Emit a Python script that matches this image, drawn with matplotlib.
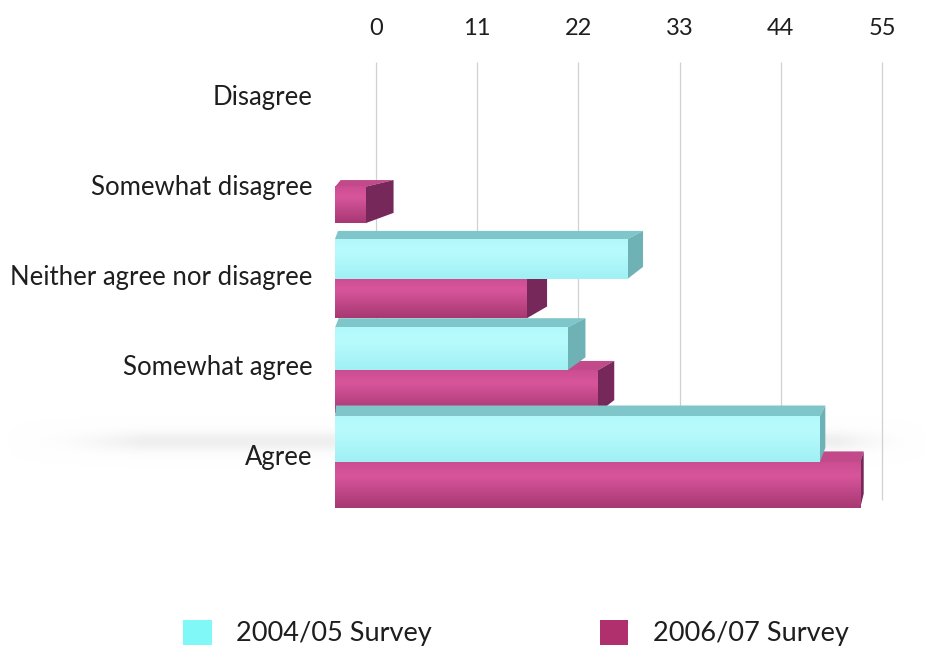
import numpy as np
import matplotlib
matplotlib.use("Agg")
import matplotlib.pyplot as plt
from matplotlib.patches import Polygon, Patch
from matplotlib.colors import LinearSegmentedColormap

plt.rcParams['font.family'] = ['Lato', 'DejaVu Sans']

categories = ["Disagree", "Somewhat disagree", "Neither agree nor disagree",
              "Somewhat agree", "Agree"]
series_names = ["2004/05 Survey", "2006/07 Survey"]
survey_2004 = [0, 0, 29, 23, 48]
survey_2006 = [0, 3, 19, 26, 52]
axis_ticks = [0, 11, 22, 33, 44, 55]

W, H = 928, 652
fig = plt.figure(figsize=(W / 100, H / 100), dpi=100)

# axes box in pixels
left_px, right_px, top_px, bot_px = 335, 900, 50, 530
ax = fig.add_axes([left_px / W, 1 - bot_px / H, (right_px - left_px) / W,
                   (bot_px - top_px) / H])

# bars (front plane) scale: ~10.1 px per unit
front_scale = 10.1
x_max = (right_px - left_px) / front_scale
row_px = 90.0
first_row_px = 95.0
y_top = (top_px - first_row_px) / row_px
y_bot = (bot_px - first_row_px) / row_px

ypos = np.arange(len(categories))

styles = [
    dict(front_top="#B8FBFD", front_bot="#A0F0F4", top="#7EC6CA", side="#6EB2B6",
         legend="#80F8F8"),
    dict(front_top="#D8559C", front_bot="#A63872", top="#C24A8A", side="#76285A",
         legend="#B0306E"),
]

vanish = (880 - left_px) / front_scale  # x (data) where depth recedes to


def draw_bar(y, v, h, depth, st, zorder):
    if v <= 0:
        return
    y0, y1 = y - h / 2, y + h / 2   # y0 is the upper edge (inverted axis)
    dx = 0.05 * (vanish - v) + 0.25
    dy = depth
    # top face
    ax.add_patch(Polygon([(0, y0), (v, y0), (v + dx, y0 - dy), (dx * 0.2, y0 - dy)],
                         closed=True, facecolor=st["top"], edgecolor="none",
                         zorder=zorder))
    # side face at the bar's end
    ax.add_patch(Polygon([(v, y0), (v + dx, y0 - dy), (v + dx, y1 - dy - 0.04),
                          (v, y1)], closed=True, facecolor=st["side"],
                         edgecolor="none", zorder=zorder))
    # front face
    ax.barh(y, v, height=h, color=st["front_bot"], zorder=zorder + 0.1)
    cmap = LinearSegmentedColormap.from_list("g", [st["front_bot"], st["front_top"]])
    t = np.linspace(0, 1, 64).reshape(-1, 1)          # 0 = upper edge
    shade = np.interp(t, [0, 0.3, 1.0], [0.75, 1.0, 0.0])
    ax.imshow(shade, extent=[0, v, y1, y0], origin="upper", aspect="auto",
              cmap=cmap, vmin=0, vmax=1, zorder=zorder + 0.2,
              interpolation="bilinear")


# soft floor shadow beneath the lowest group
sy = np.exp(-np.linspace(-2.2, 2.2, 80) ** 2).reshape(-1, 1)
sx = np.clip(np.interp(np.linspace(0, 1, 300), [0, 0.15, 0.9, 1], [0, 1, 1, 0]), 0, 1)
sh = sy * sx.reshape(1, -1)
sh_cmap = LinearSegmentedColormap.from_list("sh", [(1, 1, 1, 0), (0.55, 0.55, 0.55, 0.14)])
ax.imshow(sh, extent=[-33, x_max + 3, 4.2, 3.5], aspect="auto", cmap=sh_cmap,
          zorder=0.5, interpolation="bilinear", clip_on=False)

for i in range(len(categories)):
    h = 0.37 + 0.035 * i          # rows nearer the viewer look deeper
    shift = 0.02 * i
    depth = 0.06 + 0.015 * i
    draw_bar(ypos[i] + shift + h / 2, survey_2006[i], h, depth, styles[1], zorder=2 + i * 2)
    draw_bar(ypos[i] + shift - h / 2, survey_2004[i], h, depth, styles[0], zorder=3 + i * 2)

ax.set_xlim(0, x_max)
ax.set_ylim(y_bot, y_top)
ax.set_yticks(ypos)
ax.set_yticklabels(categories, fontsize=18.5, color="#1E1E1E")
ax.tick_params(axis="y", length=0, pad=16)
ax.set_xticks([])
for s in ax.spines.values():
    s.set_visible(False)

# value axis on the back wall
ax2 = ax.twiny()
back_scale = (882 - 376) / 55.0
lo = -(376 - left_px) / back_scale
hi = (right_px - 376) / back_scale
ax2.set_xlim(lo, hi)
ax2.set_xticks(axis_ticks)
ax2.set_xticklabels([str(t) for t in axis_ticks], fontsize=17, color="#1E1E1E")
ax2.tick_params(axis="x", length=0, pad=8)
g_top = (62 - first_row_px) / row_px
g_bot = (500 - first_row_px) / row_px
ax2.vlines(axis_ticks, g_bot, g_top, colors="#D0D0D0", linewidth=0.9, zorder=0)
for s in ax2.spines.values():
    s.set_visible(False)
ax2.set_zorder(-1)
ax.patch.set_visible(False)

fs = 19.5
handles = [Patch(facecolor=styles[0]["legend"], edgecolor="none"),
           Patch(facecolor=styles[1]["legend"], edgecolor="none")]
fig.legend(handles, series_names, loc="center", bbox_to_anchor=(516 / W, 1 - 633 / H),
           ncol=2, frameon=False, fontsize=fs, handlelength=1.05, handleheight=1.05,
           handletextpad=0.9, columnspacing=6.2, labelcolor="#1E1E1E")

fig.savefig("out.png", dpi=100, facecolor="white")
